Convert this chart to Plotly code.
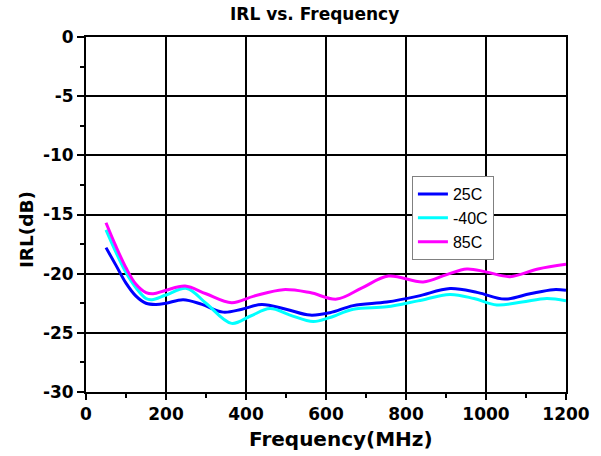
import plotly.graph_objects as go

f_25 = [50, 75, 100, 125, 150, 175, 200, 243, 290, 343, 390, 439, 500, 560, 610, 668, 752, 830, 910, 980, 1047, 1110, 1168, 1200]
irl_25 = [-17.8, -19.3, -20.8, -21.9, -22.5, -22.6, -22.5, -22.2, -22.6, -23.25, -23.0, -22.6, -23.0, -23.5, -23.3, -22.7, -22.4, -21.9, -21.25, -21.6, -22.15, -21.7, -21.35, -21.4]

f_m40 = [50, 75, 100, 125, 150, 165, 200, 252, 300, 364, 410, 460, 510, 568, 610, 668, 752, 830, 910, 970, 1027, 1090, 1152, 1200]
irl_m40 = [-16.3, -18.2, -19.9, -21.2, -22.1, -22.2, -21.8, -21.25, -22.5, -24.2, -23.6, -22.95, -23.5, -24.05, -23.7, -23.0, -22.8, -22.3, -21.75, -22.1, -22.65, -22.4, -22.1, -22.3]

f_85 = [50, 75, 100, 125, 150, 168, 200, 248, 300, 364, 420, 493, 560, 627, 690, 756, 843, 900, 952, 1000, 1060, 1130, 1200]
irl_85 = [-15.7, -17.7, -19.5, -20.9, -21.6, -21.7, -21.4, -21.05, -21.7, -22.45, -21.9, -21.35, -21.6, -22.15, -21.2, -20.2, -20.7, -20.1, -19.6, -19.85, -20.25, -19.6, -19.2]

x_ticks = [0, 200, 400, 600, 800, 1000, 1200]
y_ticks = [0, -5, -10, -15, -20, -25, -30]
x_minor = [100, 300, 500, 700, 900, 1100]
y_minor = [-2.5, -7.5, -12.5, -17.5, -22.5, -27.5]

fig = go.Figure()
for name, xs, ys, col in [("25C", f_25, irl_25, "#0000FF"),
                          ("-40C", f_m40, irl_m40, "#00FFFF"),
                          ("85C", f_85, irl_85, "#FF00FF")]:
    fig.add_trace(go.Scatter(x=xs, y=ys, name=name, mode="lines",
                             line=dict(color=col, width=3, shape="spline", smoothing=1.0)))

bold_font = "DejaVu Sans, sans-serif"
leg_font = "Liberation Sans, Arial, sans-serif"

fig.update_layout(
    width=601, height=456,
    margin=dict(l=86, r=35, t=37, b=64),
    paper_bgcolor="white", plot_bgcolor="white",
    font=dict(family=bold_font, color="black"),
    showlegend=True,
    legend=dict(x=0.679, y=0.608, xanchor="left", yanchor="top",
                bgcolor="white", bordercolor="#808080", borderwidth=1,
                font=dict(family=leg_font, size=16, color="black"),
                tracegroupgap=0, itemwidth=30),
    xaxis=dict(
        range=[0, 1200], tickvals=x_ticks, ticktext=[f"<b>{v}</b>" for v in x_ticks],
        showgrid=True, gridcolor="black", gridwidth=2,
        showline=True, linecolor="black", linewidth=2, mirror=True,
        ticks="outside", ticklen=6, tickwidth=2, tickcolor="black",
        minor=dict(tickvals=x_minor, ticks="outside", ticklen=4, tickwidth=1.5,
                   tickcolor="black", showgrid=False),
        tickfont=dict(family=bold_font, size=17, color="black"),
        zeroline=False),
    yaxis=dict(
        range=[-30, 0], tickvals=y_ticks, ticktext=[f"<b>{v}</b>" for v in y_ticks],
        showgrid=True, gridcolor="black", gridwidth=2,
        showline=True, linecolor="black", linewidth=2, mirror=True,
        ticks="outside", ticklen=7, tickwidth=2, tickcolor="black",
        minor=dict(tickvals=y_minor, ticks="outside", ticklen=4, tickwidth=1.5,
                   tickcolor="black", showgrid=False),
        tickfont=dict(family=bold_font, size=17, color="black"),
        zeroline=False),
    xaxis2=dict(overlaying="x", side="top", range=[0, 1200], tickvals=x_minor,
                showticklabels=False, ticks="inside", ticklen=5, tickwidth=1.5,
                tickcolor="black", showgrid=False, zeroline=False, showline=False),
    yaxis2=dict(overlaying="y", side="right", range=[-30, 0], tickvals=y_minor,
                showticklabels=False, ticks="inside", ticklen=5, tickwidth=1.5,
                tickcolor="black", showgrid=False, zeroline=False, showline=False),
    annotations=[
        dict(text="<b>IRL vs. Frequency</b>", xref="paper", yref="paper",
             x=0.477, y=1.065, xanchor="center", yanchor="middle", showarrow=False,
             font=dict(family=bold_font, size=17, color="black")),
        dict(text="<b>Frequency(MHz)</b>", xref="paper", yref="paper",
             x=0.531, y=-0.132, xanchor="center", yanchor="middle", showarrow=False,
             font=dict(family=bold_font, size=20, color="black")),
        dict(text="<b>IRL(dB)</b>", xref="paper", yref="paper", textangle=-90,
             x=-0.125, y=0.456, xanchor="center", yanchor="middle", showarrow=False,
             font=dict(family=bold_font, size=18.5, color="black")),
    ],
)
fig.write_html("out.html")
